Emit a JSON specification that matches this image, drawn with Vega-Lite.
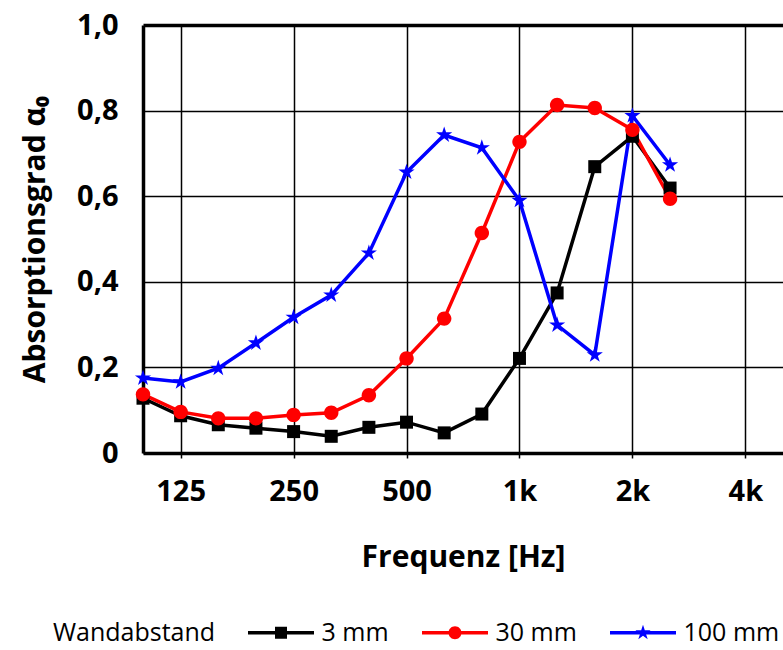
{
  "$schema": "https://vega.github.io/schema/vega-lite/v6.json",
  "width": 640,
  "height": 428,
  "autosize": "none",
  "padding": {"left": 143, "top": 25, "right": 0, "bottom": 197},
  "background": "white",
  "config": {"view": {"stroke": null}, "font": "Open Sans"},
  "data": {
    "values": [
      {"f": 100, "series": "3 mm", "a": 0.128},
      {"f": 125, "series": "3 mm", "a": 0.087},
      {"f": 160, "series": "3 mm", "a": 0.066},
      {"f": 200, "series": "3 mm", "a": 0.058},
      {"f": 250, "series": "3 mm", "a": 0.050},
      {"f": 315, "series": "3 mm", "a": 0.039},
      {"f": 400, "series": "3 mm", "a": 0.060},
      {"f": 500, "series": "3 mm", "a": 0.072},
      {"f": 630, "series": "3 mm", "a": 0.047},
      {"f": 800, "series": "3 mm", "a": 0.091},
      {"f": 1000, "series": "3 mm", "a": 0.221},
      {"f": 1250, "series": "3 mm", "a": 0.374},
      {"f": 1600, "series": "3 mm", "a": 0.669},
      {"f": 2000, "series": "3 mm", "a": 0.740},
      {"f": 2500, "series": "3 mm", "a": 0.619},
      {"f": 100, "series": "30 mm", "a": 0.137},
      {"f": 125, "series": "30 mm", "a": 0.096},
      {"f": 160, "series": "30 mm", "a": 0.081},
      {"f": 200, "series": "30 mm", "a": 0.081},
      {"f": 250, "series": "30 mm", "a": 0.089},
      {"f": 315, "series": "30 mm", "a": 0.094},
      {"f": 400, "series": "30 mm", "a": 0.135},
      {"f": 500, "series": "30 mm", "a": 0.221},
      {"f": 630, "series": "30 mm", "a": 0.314},
      {"f": 800, "series": "30 mm", "a": 0.514},
      {"f": 1000, "series": "30 mm", "a": 0.727},
      {"f": 1250, "series": "30 mm", "a": 0.813},
      {"f": 1600, "series": "30 mm", "a": 0.806},
      {"f": 2000, "series": "30 mm", "a": 0.755},
      {"f": 2500, "series": "30 mm", "a": 0.594},
      {"f": 100, "series": "100 mm", "a": 0.175},
      {"f": 125, "series": "100 mm", "a": 0.166},
      {"f": 160, "series": "100 mm", "a": 0.198},
      {"f": 200, "series": "100 mm", "a": 0.257},
      {"f": 250, "series": "100 mm", "a": 0.317},
      {"f": 315, "series": "100 mm", "a": 0.369},
      {"f": 400, "series": "100 mm", "a": 0.467},
      {"f": 500, "series": "100 mm", "a": 0.656},
      {"f": 630, "series": "100 mm", "a": 0.743},
      {"f": 800, "series": "100 mm", "a": 0.713},
      {"f": 1000, "series": "100 mm", "a": 0.590},
      {"f": 1250, "series": "100 mm", "a": 0.299},
      {"f": 1600, "series": "100 mm", "a": 0.229},
      {"f": 2000, "series": "100 mm", "a": 0.788},
      {"f": 2500, "series": "100 mm", "a": 0.673}
    ]
  },
  "encoding": {
    "x": {
      "field": "f",
      "type": "ordinal",
      "scale": {"type": "point", "padding": 0, "domain": [100, 125, 160, 200, 250, 315, 400, 500, 630, 800, 1000, 1250, 1600, 2000, 2500, 3150, 4000, 5000]},
      "axis": {
        "title": "Frequenz [Hz]",
        "values": [125, 250, 500, 1000, 2000, 4000],
        "labelExpr": "datum.value >= 1000 ? (datum.value / 1000) + 'k' : '' + datum.value",
        "labelAngle": 0,
        "labelFont": "Open Sans",
        "labelFontSize": 29,
        "labelFontWeight": "bold",
        "labelColor": "black",
        "labelPadding": 19,
        "labelOverlap": false,
        "tickSize": 5,
        "tickColor": "black",
        "tickWidth": 1.5,
        "domainColor": "black",
        "domainWidth": 3.5,
        "grid": true,
        "gridColor": "black",
        "gridWidth": 1.5,
        "gridOpacity": 1,
        "titleFont": "Open Sans",
        "titleFontSize": 30,
        "titleFontWeight": "bold",
        "titleColor": "black",
        "titlePadding": 36
      }
    },
    "y": {
      "field": "a",
      "type": "quantitative",
      "scale": {"domain": [0, 1]},
      "axis": {
        "title": "Absorptionsgrad α₀",
        "values": [0, 0.2, 0.4, 0.6, 0.8, 1],
        "labelExpr": "datum.value == 0 ? '0' : replace(format(datum.value, '.1f'), '.', ',')",
        "labelFont": "Open Sans",
        "labelFontSize": 29,
        "labelFontWeight": "bold",
        "labelColor": "black",
        "labelPadding": 25,
        "ticks": false,
        "domainColor": "black",
        "domainWidth": 3.5,
        "gridColor": "black",
        "gridOpacity": 1,
        "gridWidth": {"condition": {"test": "datum.value === 1", "value": 3.5}, "value": 1.5},
        "titleFont": "Open Sans",
        "titleFontSize": 30,
        "titleFontWeight": "bold",
        "titleColor": "black",
        "titlePadding": 26
      }
    }
  },
  "layer": [
    {
      "mark": {"type": "line", "strokeWidth": 3.5, "interpolate": "linear"},
      "encoding": {
        "color": {
          "field": "series",
          "type": "nominal",
          "scale": {"domain": ["3 mm", "30 mm", "100 mm"], "range": ["#000000", "#ff0000", "#0000ff"]},
          "legend": {
            "title": "Wandabstand",
            "orient": "none",
            "legendX": -90,
            "legendY": 595,
            "direction": "horizontal",
            "titleOrient": "left",
            "titleAnchor": "middle",
            "titleBaseline": "middle",
            "titleFont": "Open Sans",
            "titleFontSize": 25,
            "titleFontWeight": "normal",
            "titleColor": "black",
            "titlePadding": 32,
            "labelFont": "Open Sans",
            "labelFontSize": 25,
            "labelColor": "black",
            "labelOffset": 28,
            "symbolSize": 400,
            "symbolOffset": 20.5,
            "symbolStrokeWidth": 0,
            "columnPadding": 33,
            "padding": 0,
            "encode": {
              "symbols": {
                "update": {
                  "shape": {"signal": "datum.value === '3 mm' ? 'M-3.3,-0.18H3.3V0.18H-3.3Z M-0.6,-0.6H0.6V0.6H-0.6Z' : datum.value === '30 mm' ? 'M-3.3,-0.18H3.3V0.18H-3.3Z M-0.65,0A0.65,0.65 0 1,1 0.65,0A0.65,0.65 0 1,1 -0.65,0Z' : 'M-3.3,-0.18H3.3V0.18H-3.3Z M0,-0.8L0.18,-0.247L0.761,-0.247L0.291,0.094L0.47,0.647L0,0.306L-0.47,0.647L-0.291,0.094L-0.761,-0.247L-0.18,-0.247Z'"},
                  "fill": {"scale": "color", "field": "value"},
                  "strokeWidth": {"value": 0},
                  "size": {"value": 400},
                  "opacity": {"value": 1}
                }
              }
            }
          }
        }
      }
    },
    {
      "transform": [{"filter": "datum.series === '3 mm'"}],
      "mark": {"type": "point", "filled": true, "opacity": 1, "size": 400, "strokeWidth": 0, "color": "#000000", "shape": "M-0.65,-0.65H0.65V0.65H-0.65Z"}
    },
    {
      "transform": [{"filter": "datum.series === '30 mm'"}],
      "mark": {"type": "point", "filled": true, "opacity": 1, "size": 400, "strokeWidth": 0, "color": "#ff0000", "shape": "M-0.72,0A0.72,0.72 0 1,1 0.72,0A0.72,0.72 0 1,1 -0.72,0Z"}
    },
    {
      "transform": [{"filter": "datum.series === '100 mm'"}],
      "mark": {"type": "point", "filled": true, "opacity": 1, "size": 400, "strokeWidth": 0, "color": "#0000ff", "shape": "M0,-0.85L0.191,-0.263L0.808,-0.263L0.309,0.1L0.5,0.688L0,0.325L-0.5,0.688L-0.309,0.1L-0.808,-0.263L-0.191,-0.263Z"}
    }
  ]
}
